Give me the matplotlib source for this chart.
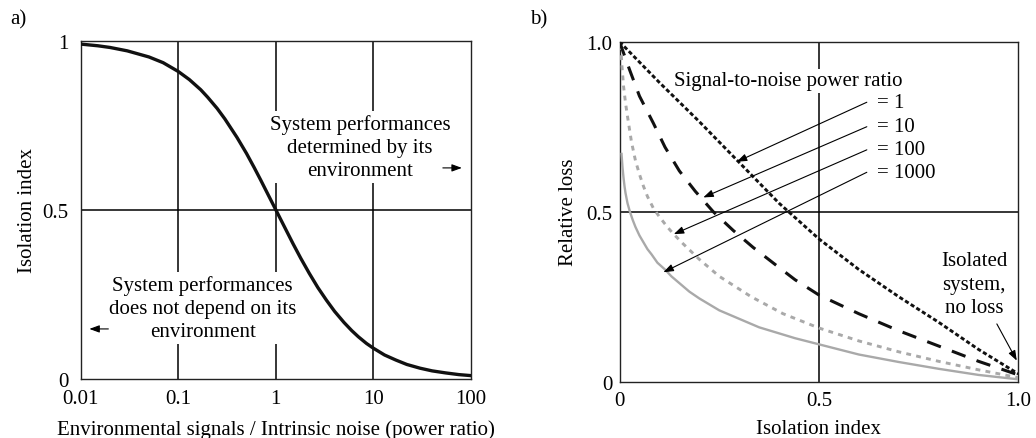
import matplotlib
matplotlib.use("Agg")
import matplotlib.pyplot as plt

plt.rcParams['font.family'] = ['Liberation Serif', 'DejaVu Serif']
plt.rcParams['font.size'] = 15
plt.rcParams['lines.scale_dashes'] = False

# --- panel a: isolation index vs environmental/intrinsic power ratio ---
ratio = [0.01, 0.015, 0.02, 0.03, 0.05, 0.07, 0.1, 0.13, 0.17, 0.2, 0.25, 0.3,
         0.4, 0.5, 0.6, 0.7, 0.85, 1, 1.2, 1.5, 1.8, 2.2, 2.7, 3.3, 4, 5, 6, 7,
         8.5, 10, 13, 17, 22, 30, 40, 55, 75, 100]
isolation = [0.99, 0.985, 0.98, 0.97, 0.952, 0.935, 0.909, 0.885, 0.855, 0.833,
             0.8, 0.769, 0.714, 0.667, 0.625, 0.588, 0.54, 0.5, 0.455, 0.4,
             0.357, 0.3125, 0.27, 0.233, 0.2, 0.167, 0.143, 0.125, 0.105, 0.091,
             0.071, 0.056, 0.043, 0.032, 0.024, 0.018, 0.013, 0.01]
a_xticks = [0.01, 0.1, 1, 10, 100]
a_xticklabels = ['0.01', '0.1', '1', '10', '100']
a_yticks = [0, 0.5, 1]
a_yticklabels = ['0', '0.5', '1']

# --- panel b: relative loss vs isolation index, one curve per SNR ---
snr_labels = ['= 1', '= 10', '= 100', '= 1000']
snr1_x = [0, 0.1, 0.2, 0.3, 0.4, 0.5, 0.6, 0.7, 0.8, 0.9, 1.0]
snr1_y = [1.0, 0.88, 0.765, 0.645, 0.525, 0.42, 0.33, 0.25, 0.175, 0.095, 0.023]
snr10_x = [0, 0.026, 0.05, 0.085, 0.114, 0.15, 0.19, 0.235, 0.285, 0.335, 0.39,
           0.44, 0.5, 0.6, 0.7, 0.8, 0.9, 1.0]
snr10_y = [1.0, 0.915, 0.84, 0.76, 0.69, 0.62, 0.56, 0.50, 0.445, 0.395, 0.345,
           0.30, 0.255, 0.20, 0.15, 0.105, 0.06, 0.02]
snr100_x = [0.003, 0.006, 0.01, 0.015, 0.02, 0.03, 0.04, 0.05, 0.06, 0.07, 0.085,
            0.1, 0.12, 0.135, 0.16, 0.2, 0.25, 0.33, 0.41, 0.5, 0.6, 0.7, 0.8,
            0.9, 1.0]
snr100_y = [0.99, 0.93, 0.87, 0.82, 0.78, 0.705, 0.65, 0.61, 0.575, 0.545, 0.51,
            0.485, 0.455, 0.435, 0.405, 0.36, 0.31, 0.25, 0.20, 0.158, 0.12,
            0.088, 0.06, 0.035, 0.012]
snr1000_x = [0.005, 0.0075, 0.01, 0.0125, 0.015, 0.02, 0.026, 0.033, 0.04, 0.05,
             0.06, 0.07, 0.08, 0.095, 0.114, 0.13, 0.15, 0.175, 0.2, 0.25, 0.3,
             0.35, 0.44, 0.5, 0.6, 0.7, 0.8, 0.9, 1.0]
snr1000_y = [0.67, 0.63, 0.60, 0.575, 0.555, 0.525, 0.50, 0.476, 0.455, 0.43,
             0.41, 0.39, 0.375, 0.35, 0.33, 0.31, 0.29, 0.265, 0.245, 0.21, 0.185,
             0.16, 0.128, 0.11, 0.08, 0.058, 0.038, 0.02, 0.007]
b_ticks = [0, 0.5, 1.0]
b_ticklabels = ['0', '0.5', '1.0']

gray = '#a9a9a9'
box = dict(facecolor='white', edgecolor='none', pad=2)
arrow = dict(arrowstyle='-|>,head_length=0.6,head_width=0.22', lw=0.8, color='k',
             shrinkA=0, shrinkB=0, mutation_scale=10)

fig = plt.figure(figsize=(10.36, 4.39), dpi=100)
ax1 = fig.add_axes([0.0779, 0.1344, 0.3767, 0.7706])
ax2 = fig.add_axes([0.598, 0.1282, 0.385, 0.7745])

# panel a
ax1.set_xscale('log')
for gx in [0.1, 1, 10]:
    ax1.axvline(gx, color='k', lw=1.1, zorder=1)
ax1.axhline(0.5, color='k', lw=1.1, zorder=1)
ax1.plot(ratio, isolation, color='#111111', lw=2.4, zorder=4)
ax1.set_xlim(0.01, 100)
ax1.set_ylim(0, 1)
ax1.set_xticks(a_xticks)
ax1.set_xticklabels(a_xticklabels)
ax1.set_yticks(a_yticks)
ax1.set_yticklabels(a_yticklabels)
ax1.minorticks_off()
ax1.set_xlabel('Environmental signals / Intrinsic noise (power ratio)', labelpad=8)
ax1.set_ylabel('Isolation index', labelpad=4)
ax1.text(7.3, 0.685, 'System performances\ndetermined by its\nenvironment',
         ha='center', va='center', linespacing=1.3, bbox=box, zorder=3)
ax1.text(0.178, 0.209, 'System performances\ndoes not depend on its\nenvironment',
         ha='center', va='center', linespacing=1.3, bbox=box, zorder=3)
ax1.annotate('', xy=(80.7, 0.624), xytext=(51.5, 0.624), arrowprops=arrow)
ax1.annotate('', xy=(0.01226, 0.148), xytext=(0.0192, 0.148), arrowprops=arrow)

# panel b
ax2.axvline(0.5, color='k', lw=1.1, zorder=1)
ax2.axhline(0.5, color='k', lw=1.1, zorder=1)
ax2.plot(snr1000_x, snr1000_y, color=gray, lw=1.7, zorder=4)
ax2.plot(snr100_x, snr100_y, color=gray, lw=2.1, dashes=(3.5, 3.8), zorder=4)
ax2.plot(snr10_x, snr10_y, color='#111111', lw=2.2, dashes=(10.5, 8.5), zorder=4)
ax2.plot(snr1_x, snr1_y, color='#111111', lw=2.1, dashes=(3.0, 1.8), zorder=4)
ax2.set_xlim(0, 1)
ax2.set_ylim(0, 1)
ax2.set_xticks(b_ticks)
ax2.set_xticklabels(b_ticklabels)
ax2.set_yticks(b_ticks)
ax2.set_yticklabels(b_ticklabels)
ax2.set_xlabel('Isolation index', labelpad=6)
ax2.set_ylabel('Relative loss', labelpad=6)
ax2.text(0.424, 0.885, 'Signal-to-noise power ratio', ha='center', va='center',
         bbox=box, zorder=3)
label_y = [0.822, 0.75, 0.682, 0.616]
tips = [(0.294, 0.647), (0.21, 0.542), (0.136, 0.434), (0.11, 0.322)]
for lab, ly, tip in zip(snr_labels, label_y, tips):
    ax2.text(0.645, ly, lab, ha='left', va='center')
    ax2.annotate('', xy=tip, xytext=(0.62, ly), arrowprops=arrow, zorder=5)
ax2.text(0.889, 0.287, 'Isolated\nsystem,\nno loss', ha='center', va='center',
         linespacing=1.3)
ax2.annotate('', xy=(0.996, 0.062), xytext=(0.946, 0.17), arrowprops=arrow)

for ax in (ax1, ax2):
    ax.tick_params(length=0, pad=7)
    for sp in ax.spines.values():
        sp.set_color('#222222')
        sp.set_linewidth(1.0)
ax1.tick_params(axis='y', pad=9)
ax2.tick_params(axis='y', pad=5)

fig.text(0.0097, 0.954, 'a)', ha='left', va='center')
fig.text(0.5116, 0.954, 'b)', ha='left', va='center')

fig.savefig('out.png', dpi=100)
